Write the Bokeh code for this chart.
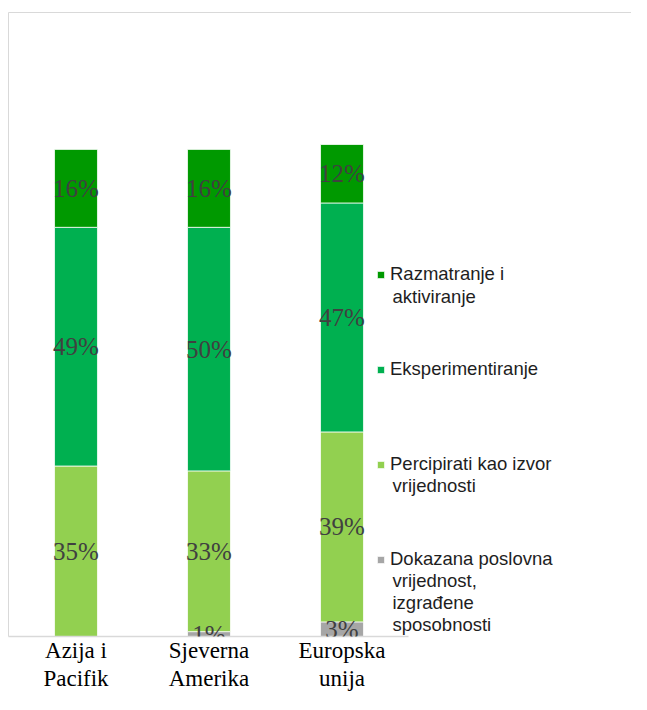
from bokeh.plotting import figure
from bokeh.models import (ColumnDataSource, Range1d, FixedTicker, LabelSet, Label,
                          Legend, LegendItem, LinearAxis)
from bokeh.embed import file_html
from bokeh.resources import INLINE

# ---- data ----
regions = ["Azija i\nPacifik", "Sjeverna\nAmerika", "Europska\nunija"]
series_first = ["Dokazana poslovna", "Percipirati kao izvor",
                "Eksperimentiranje", "Razmatranje i"]
series_rest = [["vrijednost,", "izgrađene", "sposobnosti"], ["vrijednosti"],
               [], ["aktiviranje"]]
dokazana = [0, 1, 3]
percipirati = [35, 33, 39]
eksperimentiranje = [49, 50, 47]
razmatranje = [16, 16, 12]
colors = ["#A6A6A6", "#92D050", "#00B050", "#009900"]

keys = ["dokazana", "percipirati", "eksperimentiranje", "razmatranje"]
xs = list(range(len(regions)))
src = ColumnDataSource(dict(x=xs, dokazana=dokazana, percipirati=percipirati,
                            eksperimentiranje=eksperimentiranje,
                            razmatranje=razmatranje))

W, H = 631, 694
p = figure(width=W, height=H, output_backend="svg", toolbar_location=None,
           x_range=Range1d(-0.5075, 4.1767), y_range=Range1d(0, 128.1),
           min_border_left=8, min_border_right=0, min_border_top=12,
           min_border_bottom=58)
p.outline_line_color = None
p.grid.visible = False

BORDER = "#D9D9D9"
bottom_axis = p.below[0]
left_axis = p.left[0]

left_axis.ticker = FixedTicker(ticks=[])
left_axis.axis_line_color = BORDER
left_axis.major_tick_out = 0
left_axis.major_tick_in = 0
left_axis.minor_tick_line_color = None
left_axis.major_label_standoff = 0

top_axis = LinearAxis(ticker=FixedTicker(ticks=[]), axis_line_color=BORDER,
                      major_tick_out=0, major_tick_in=0,
                      minor_tick_line_color=None, major_label_standoff=0)
p.add_layout(top_axis, "above")

renderers = p.vbar_stack(keys, x="x", width=0.323, color=colors, source=src,
                         line_color="white", line_width=0.75)

# data labels
lx, ly, lt = [], [], []
series_vals = [dokazana, percipirati, eksperimentiranje, razmatranje]
for i in xs:
    bottom = 0
    for vals in series_vals:
        v = vals[i]
        if v > 0:
            lx.append(i)
            ly.append(bottom + v / 2)
            lt.append(f"{v}%")
        bottom += v
lsrc = ColumnDataSource(dict(x=lx, y=ly, t=lt))
p.add_layout(LabelSet(x="x", y="y", text="t", source=lsrc,
                      text_align="center", text_baseline="middle",
                      text_font="Liberation Serif", text_font_size="25px",
                      text_color="#404040"))

bottom_axis.ticker = FixedTicker(ticks=xs)
bottom_axis.major_label_overrides = {i: r for i, r in zip(xs, regions)}
bottom_axis.bounds = (-0.5075, 2.5)
bottom_axis.axis_line_color = BORDER
bottom_axis.axis_line_width = 1.5
bottom_axis.major_tick_line_color = None
bottom_axis.minor_tick_line_color = None
bottom_axis.major_label_standoff = -5
bottom_axis.major_label_text_font = "Liberation Serif"
bottom_axis.major_label_text_font_size = "23px"
bottom_axis.major_label_text_color = "black"
bottom_axis.major_label_text_line_height = 1.15

# legend: first line of each entry with its swatch
LEG_FONT = "Liberation Sans"
LEG_SIZE = "18.5px"
LEG_COLOR = "#1e1e1e"
items = [LegendItem(label=series_first[k], renderers=[renderers[k]])
         for k in (3, 2, 1, 0)]
legend = Legend(items=items, location=(368, 66), padding=0, margin=0,
                border_line_color=None, background_fill_alpha=0,
                glyph_width=9, glyph_height=9, label_standoff=5,
                label_height=22, spacing=73,
                label_text_font=LEG_FONT, label_text_font_size=LEG_SIZE,
                label_text_color=LEG_COLOR, label_text_baseline="middle")
p.add_layout(legend)

# continuation lines of the legend entries (screen offsets from frame bottom-left)
cont_y = {3: [340.5], 1: [151], 0: [56, 34, 12]}
for k, ys in cont_y.items():
    for txt, yy in zip(series_rest[k], ys):
        p.add_layout(Label(x=384, y=yy, x_units="screen", y_units="screen",
                           text=txt, text_font=LEG_FONT, text_font_size=LEG_SIZE,
                           text_color=LEG_COLOR, text_baseline="middle"))

open("out.html", "w").write(file_html(p, INLINE))
